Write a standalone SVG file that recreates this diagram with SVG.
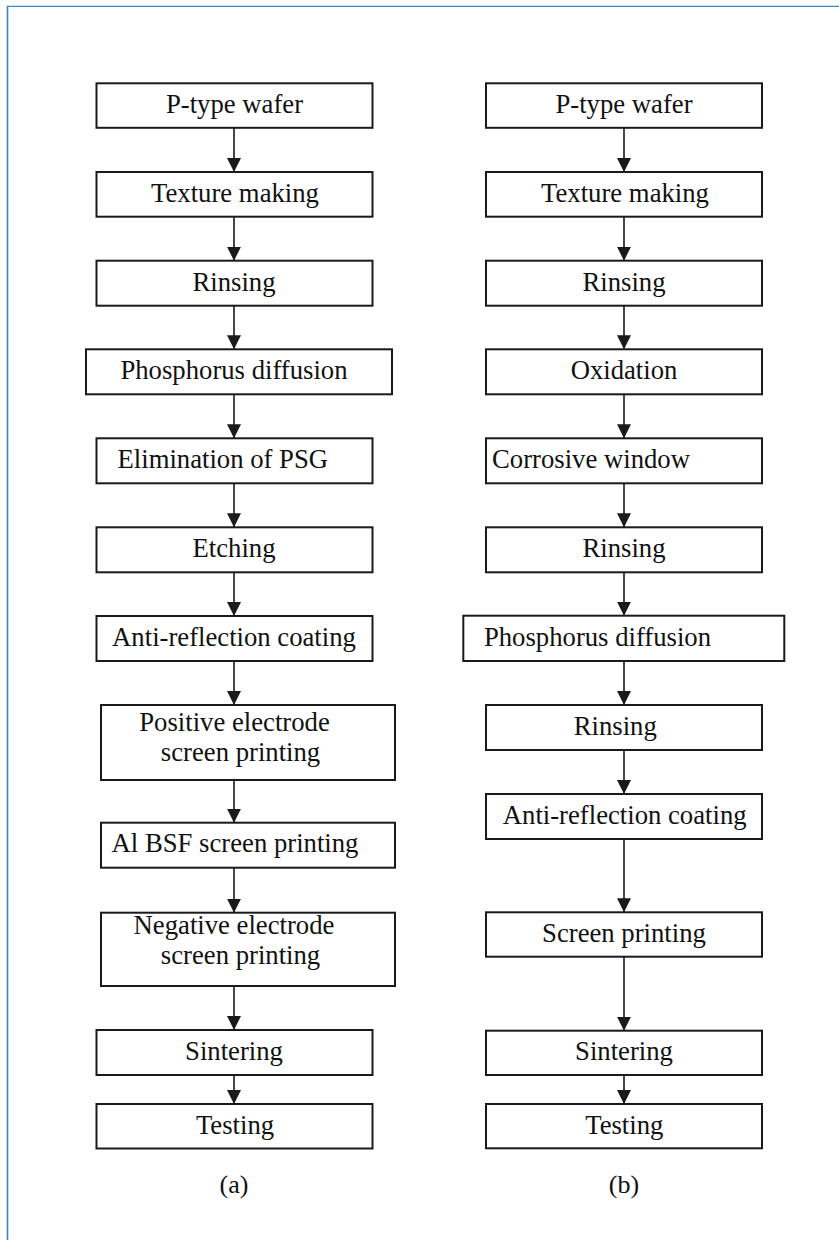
<svg xmlns="http://www.w3.org/2000/svg" width="839" height="1241" viewBox="0 0 839 1241">
<defs>
<style>
.box{fill:#fff;stroke:#1a1a1a;stroke-width:2}
.t{font-family:"Liberation Serif","Times New Roman",serif;font-size:26.7px;fill:#111;text-anchor:middle}
.c{stroke:#1a1a1a;stroke-width:1.6;fill:none;marker-end:url(#ah)}
.frame{stroke:#3a86c8;fill:none}
</style>
<marker id="ah" viewBox="0 0 14 14" refX="14" refY="7" markerWidth="14" markerHeight="14" markerUnits="userSpaceOnUse" orient="auto">
<path d="M0,0 L14,7 L0,14 z" fill="#1a1a1a"/>
</marker>
</defs>
<rect width="839" height="1241" fill="#fff"/>
<g id="frame">
<line class="frame" x1="7.5" y1="6.3" x2="839" y2="6.3" stroke-width="1.3"/>
<line class="frame" x1="7.5" y1="5.7" x2="7.5" y2="1240" stroke-width="1.6"/>
</g>
<g id="connectors">
<line class="c" x1="234" y1="128" x2="234" y2="172"/>
<line class="c" x1="234" y1="217" x2="234" y2="260.7"/>
<line class="c" x1="234" y1="305.7" x2="234" y2="349.3"/>
<line class="c" x1="234" y1="394.3" x2="234" y2="438.3"/>
<line class="c" x1="234" y1="483.3" x2="234" y2="527.3"/>
<line class="c" x1="234" y1="572.3" x2="234" y2="616"/>
<line class="c" x1="234" y1="661" x2="234" y2="705"/>
<line class="c" x1="234" y1="780" x2="234" y2="822.7"/>
<line class="c" x1="234" y1="867.7" x2="234" y2="912.7"/>
<line class="c" x1="234" y1="986" x2="234" y2="1030"/>
<line class="c" x1="234" y1="1075" x2="234" y2="1104"/>
<line class="c" x1="624" y1="128" x2="624" y2="172"/>
<line class="c" x1="624" y1="217" x2="624" y2="260.7"/>
<line class="c" x1="624" y1="305.7" x2="624" y2="349.3"/>
<line class="c" x1="624" y1="394.3" x2="624" y2="438.3"/>
<line class="c" x1="624" y1="483.3" x2="624" y2="527.3"/>
<line class="c" x1="624" y1="572.3" x2="624" y2="615.7"/>
<line class="c" x1="624" y1="661" x2="624" y2="705"/>
<line class="c" x1="624" y1="750" x2="624" y2="794"/>
<line class="c" x1="624" y1="839" x2="624" y2="912.3"/>
<line class="c" x1="624" y1="956.7" x2="624" y2="1030.7"/>
<line class="c" x1="624" y1="1075" x2="624" y2="1104"/>
</g>
<g id="a1"><rect class="box" x="96.5" y="83.3" width="276" height="44.5"/><text class="t" x="234.5" y="112.5">P-type wafer</text></g>
<g id="a2"><rect class="box" x="96.5" y="172" width="276" height="44.7"/><text class="t" x="235" y="201.5">Texture making</text></g>
<g id="a3"><rect class="box" x="96.5" y="260.7" width="276" height="45"/><text class="t" x="234" y="290.5">Rinsing</text></g>
<g id="a4"><rect class="box" x="86" y="349.3" width="306" height="45"/><text class="t" x="234" y="379">Phosphorus diffusion</text></g>
<g id="a5"><rect class="box" x="96.5" y="438.3" width="276" height="45"/><text class="t" x="222.8" y="468">Elimination of PSG</text></g>
<g id="a6"><rect class="box" x="96.5" y="527.3" width="276" height="45"/><text class="t" x="234" y="557">Etching</text></g>
<g id="a7"><rect class="box" x="96.5" y="616" width="276" height="45"/><text class="t" x="234" y="645.7">Anti-reflection coating</text></g>
<g id="a8"><rect class="box" x="101" y="705" width="294" height="75"/><text class="t" x="234.5" y="731">Positive electrode</text><text class="t" x="240.5" y="761">screen printing</text></g>
<g id="a9"><rect class="box" x="101" y="822.7" width="294" height="45"/><text class="t" x="235" y="852.3">Al BSF screen printing</text></g>
<g id="a10"><rect class="box" x="101" y="912.7" width="294" height="73.3"/><text class="t" x="234" y="933.5">Negative electrode</text><text class="t" x="240.5" y="963.5">screen printing</text></g>
<g id="a11"><rect class="box" x="96.5" y="1030" width="276" height="45"/><text class="t" x="234" y="1059.5">Sintering</text></g>
<g id="a12"><rect class="box" x="96.5" y="1104" width="276" height="44.5"/><text class="t" x="235" y="1133.5">Testing</text></g>
<g id="b1"><rect class="box" x="486" y="83.3" width="276" height="44.5"/><text class="t" x="624" y="112.5">P-type wafer</text></g>
<g id="b2"><rect class="box" x="486" y="172" width="276" height="44.7"/><text class="t" x="625" y="201.5">Texture making</text></g>
<g id="b3"><rect class="box" x="486" y="260.7" width="276" height="45"/><text class="t" x="624" y="290.5">Rinsing</text></g>
<g id="b4"><rect class="box" x="486" y="349.3" width="276" height="45"/><text class="t" x="624" y="379">Oxidation</text></g>
<g id="b5"><rect class="box" x="486" y="438.3" width="276" height="45"/><text class="t" x="591" y="468">Corrosive window</text></g>
<g id="b6"><rect class="box" x="486" y="527.3" width="276" height="45"/><text class="t" x="624" y="557">Rinsing</text></g>
<g id="b7"><rect class="box" x="463.3" y="615.7" width="321" height="45.3"/><text class="t" x="597.5" y="645.5">Phosphorus diffusion</text></g>
<g id="b8"><rect class="box" x="486" y="705" width="276" height="45"/><text class="t" x="615.3" y="734.7">Rinsing</text></g>
<g id="b9"><rect class="box" x="486" y="794" width="276" height="45"/><text class="t" x="624.7" y="823.7">Anti-reflection coating</text></g>
<g id="b10"><rect class="box" x="486" y="912.3" width="276" height="44.4"/><text class="t" x="624" y="941.8">Screen printing</text></g>
<g id="b11"><rect class="box" x="486" y="1030.7" width="276" height="44.3"/><text class="t" x="624" y="1060">Sintering</text></g>
<g id="b12"><rect class="box" x="486" y="1104" width="276" height="44.3"/><text class="t" x="624.3" y="1133.5">Testing</text></g>
<g id="labels">
<text class="t" x="234" y="1193" style="font-size:26px">(a)</text>
<text class="t" x="624" y="1193" style="font-size:26px">(b)</text>
</g>
</svg>
